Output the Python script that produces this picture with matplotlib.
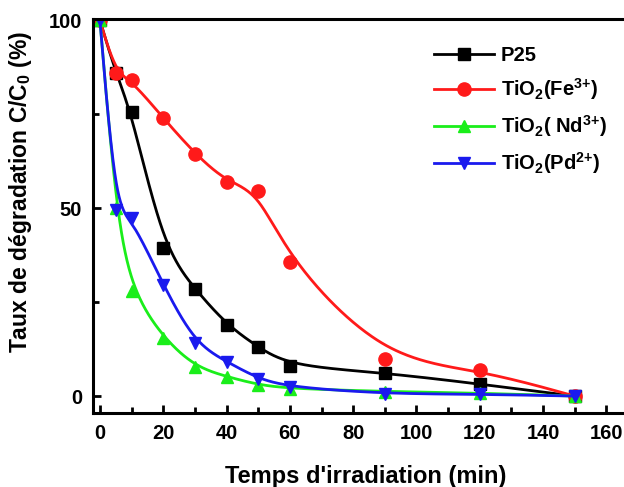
import numpy as np
import matplotlib
matplotlib.use('Agg')
import matplotlib.pyplot as plt

# temps (min)
t = [0, 5, 10, 20, 30, 40, 50, 60, 90, 120, 150]

# C/C0 (%)
p25 = [100, 86, 75.5, 39.5, 28.5, 19, 13, 8, 6.2, 3.2, 0]
fe = [100, 86, 84, 74, 64.5, 57, 54.5, 35.8, 9.8, 7, 0]
nd = [100, 50, 28, 15.5, 7.8, 5.2, 3, 2, 1.2, 0.8, 0]
pd_ = [100, 49.5, 47.5, 29.5, 14, 9.2, 4.6, 2.4, 0.6, 0.5, 0]

labels = ['P25', r'TiO$_2$(Fe$^{3{+}}$)', r'TiO$_2$( Nd$^{3{+}}$)', r'TiO$_2$(Pd$^{2{+}}$)']
colors = ['black', '#ff1a1a', '#1aee1a', '#1a1aee']
markers = ['s', 'o', '^', 'v']
msizes = [8, 9.5, 9, 9]


def bspline(x, y, n=60):
    # cubic b-spline using the points as control points (like origin's b-spline line)
    px = np.r_[x[0], x[0], x, x[-1], x[-1]].astype(float)
    py = np.r_[y[0], y[0], y, y[-1], y[-1]].astype(float)
    u = np.linspace(0, 1, n)
    b0 = (1 - u)**3 / 6
    b1 = (3 * u**3 - 6 * u**2 + 4) / 6
    b2 = (-3 * u**3 + 3 * u**2 + 3 * u + 1) / 6
    b3 = u**3 / 6
    xs, ys = [], []
    for i in range(len(px) - 3):
        xs.append(b0 * px[i] + b1 * px[i + 1] + b2 * px[i + 2] + b3 * px[i + 3])
        ys.append(b0 * py[i] + b1 * py[i + 1] + b2 * py[i + 2] + b3 * py[i + 3])
    return np.concatenate(xs), np.concatenate(ys)


plt.rcParams['font.family'] = ['Liberation Sans', 'DejaVu Sans']
plt.rcParams['font.weight'] = 'bold'
plt.rcParams['mathtext.default'] = 'regular'

fig = plt.figure(figsize=(6.24, 4.87), dpi=100)
ax = fig.add_axes([0.1495, 0.152, 0.873, 0.81])

for y, lab, c, mk, ms in zip([p25, fe, nd, pd_], labels, colors, markers, msizes):
    xs, ys = bspline(t, y)
    ax.plot(xs, ys, color=c, lw=2.0)
    ax.plot(t, y, linestyle='none', marker=mk, color=c, markersize=ms)
    ax.plot([], [], color=c, lw=2.0, marker=mk, markersize=ms, label=lab)

ax.set_xlim(-2.1, 170)
ax.set_ylim(-4.5, 100.5)
ax.set_xticks(range(0, 161, 20))
ax.set_xticks(range(10, 161, 20), minor=True)
ax.set_yticks([0, 50, 100])
ax.set_yticks([25, 75], minor=True)
ax.tick_params(which='both', direction='in', width=2, labelsize=14.5, pad=8)
ax.tick_params(which='major', length=6)
ax.tick_params(which='minor', length=4)
for sp in ax.spines.values():
    sp.set_linewidth(2.2)

ax.set_xlabel("Temps d'irradiation (min)", fontsize=17, fontweight='bold', labelpad=16)
ax.set_ylabel(r'Taux de dégradation C/C$_0$ (%)', fontsize=16.5, fontweight='bold')
ax.yaxis.set_label_coords(-0.108, 0.56)

ax.legend(loc='upper right', bbox_to_anchor=(0.975, 0.975), frameon=False, fontsize=14.5,
          handlelength=3.0, handletextpad=0.3, labelspacing=0.55)

fig.savefig('out.png', dpi=100)
